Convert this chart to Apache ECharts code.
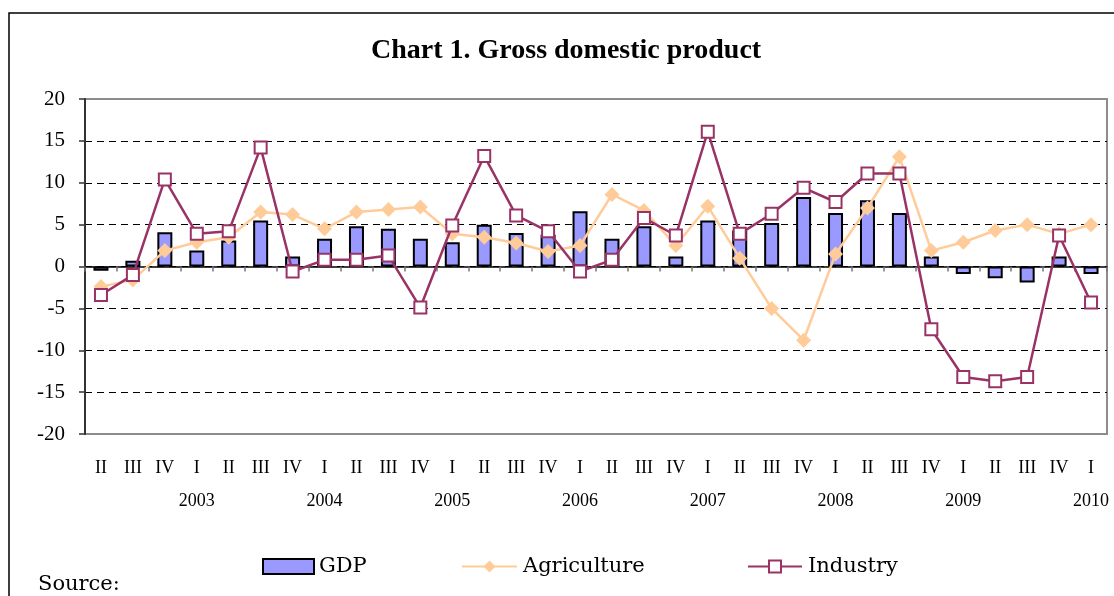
<!DOCTYPE html>
<html>
<head>
<meta charset="utf-8">
<script src="https://cdn.jsdelivr.net/npm/echarts@6/dist/echarts.min.js"></script>
<style>
  html, body { margin: 0; padding: 0; background: #fff; }
  #main { width: 1114px; height: 596px; }
</style>
</head>
<body>
<div id="main"></div>
<script>
// quarters from 2002 II to 2010 I
const quarters = ['II', 'III', 'IV',
  'I', 'II', 'III', 'IV',
  'I', 'II', 'III', 'IV',
  'I', 'II', 'III', 'IV',
  'I', 'II', 'III', 'IV',
  'I', 'II', 'III', 'IV',
  'I', 'II', 'III', 'IV',
  'I', 'II', 'III', 'IV',
  'I'];
const years = ['', '', '',
  '2003', '', '', '',
  '2004', '', '', '',
  '2005', '', '', '',
  '2006', '', '', '',
  '2007', '', '', '',
  '2008', '', '', '',
  '2009', '', '', '',
  '2010'];

const gdp = [-0.5, 0.7, 4.1, 1.9, 3.1, 5.5, 1.2,
  3.3, 4.8, 4.5, 3.3,
  2.9, 5.0, 4.0, 3.8,
  6.6, 3.3, 4.8, 1.2,
  5.5, 4.3, 5.2, 8.3,
  6.4, 7.9, 6.4, 1.2,
  -0.9, -1.4, -1.9, 1.2,
  -0.9];
const agriculture = [-2.4, -1.6, 1.9, 2.9, 3.5, 6.5, 6.2,
  4.5, 6.5, 6.8, 7.1,
  3.9, 3.5, 2.8, 1.8,
  2.5, 8.6, 6.7, 2.5,
  7.2, 1.0, -5.0, -8.8,
  1.5, 7.0, 13.1, 1.9,
  2.9, 4.3, 5.0, 3.9,
  5.0];
const industry = [-3.4, -1.0, 10.4, 3.9, 4.2, 14.2, -0.6,
  0.8, 0.8, 1.3, -4.9,
  4.9, 13.2, 6.1, 4.2,
  -0.6, 0.8, 5.8, 3.7,
  16.1, 3.9, 6.3, 9.4,
  7.7, 11.1, 11.1, -7.5,
  -13.2, -13.7, -13.2, 3.7,
  -4.3];

const serif = 'Liberation Serif';
const serif2 = 'DejaVu Serif';

const myChart = echarts.init(document.getElementById('main'), null, { renderer: 'canvas' });

const legendText = { fontFamily: serif2, fontSize: 21, color: '#000', padding: [0, 0, 0, 1] };

const option = {
  animation: false,
  backgroundColor: '#fff',
  title: {
    text: 'Chart 1. Gross domestic product',
    left: 366,
    top: 32,
    textStyle: { fontFamily: serif, fontWeight: 'bold', fontSize: 28, color: '#000' }
  },
  graphic: [
    {
      type: 'rect',
      shape: { x: 9, y: 13, width: 1200, height: 700 },
      style: { fill: 'none', stroke: '#000', lineWidth: 1.5 },
      silent: true
    },
    {
      type: 'text',
      left: 38,
      top: 574,
      style: { text: 'Source:', fontFamily: serif2, fontSize: 21, fill: '#000' }
    }
  ],
  legend: [
    {
      data: [{ name: 'GDP', icon: 'rect' }],
      left: 257,
      top: 551,
      itemWidth: 51,
      itemHeight: 15,
      textStyle: Object.assign({}, legendText, { padding: 0 })
    },
    {
      data: ['Agriculture'],
      left: 456,
      top: 551,
      itemWidth: 55,
      itemHeight: 15,
      textStyle: legendText
    },
    {
      data: ['Industry'],
      left: 742,
      top: 551,
      itemWidth: 54,
      itemHeight: 15,
      textStyle: legendText
    }
  ],
  grid: {
    left: 85,
    right: 7,
    top: 99,
    bottom: 162,
    show: true,
    borderColor: '#8c8c8c',
    borderWidth: 2
  },
  xAxis: [
    {
      type: 'category',
      data: quarters,
      axisLine: { onZero: true, lineStyle: { color: '#000', width: 1.5 } },
      axisTick: { show: true, length: 5, lineStyle: { color: '#777', width: 1.5 } },
      axisLabel: { show: false },
      splitLine: { show: false }
    },
    {
      type: 'category',
      data: quarters,
      position: 'bottom',
      axisLine: { show: false, onZero: false },
      axisTick: { show: false },
      axisLabel: {
        interval: 0,
        margin: 18,
        fontFamily: serif,
        fontSize: 18,
        color: '#000',
        lineHeight: 33,
        formatter: (v, i) => years[i] ? v + '\n' + years[i] : v
      }
    }
  ],
  yAxis: {
    type: 'value',
    min: -20,
    max: 20,
    interval: 5,
    axisLine: { show: true, lineStyle: { color: '#333', width: 2 } },
    axisTick: { show: true, length: 6, lineStyle: { color: '#333', width: 1.5 } },
    axisLabel: { fontFamily: serif, fontSize: 21, color: '#000', margin: 20 },
    splitLine: {
      show: true,
      showMinLine: false,
      showMaxLine: false,
      lineStyle: { color: '#000', type: [7, 5], width: 1 }
    }
  },
  series: [
    {
      name: 'GDP',
      type: 'bar',
      data: gdp,
      barWidth: 15,
      itemStyle: { color: '#9999ff', borderColor: '#000', borderWidth: 2 }
    },
    {
      name: 'Agriculture',
      type: 'line',
      data: agriculture,
      symbol: 'diamond',
      symbolSize: 15,
      itemStyle: { color: '#ffcc99' },
      lineStyle: { color: '#ffcc99', width: 2.5 },
      z: 3
    },
    {
      name: 'Industry',
      type: 'line',
      data: industry,
      symbol: 'rect',
      symbolSize: 12,
      itemStyle: { color: '#fff', borderColor: '#993366', borderWidth: 2 },
      lineStyle: { color: '#993366', width: 2.5 },
      z: 4
    }
  ]
};

myChart.setOption(option);
</script>
</body>
</html>
